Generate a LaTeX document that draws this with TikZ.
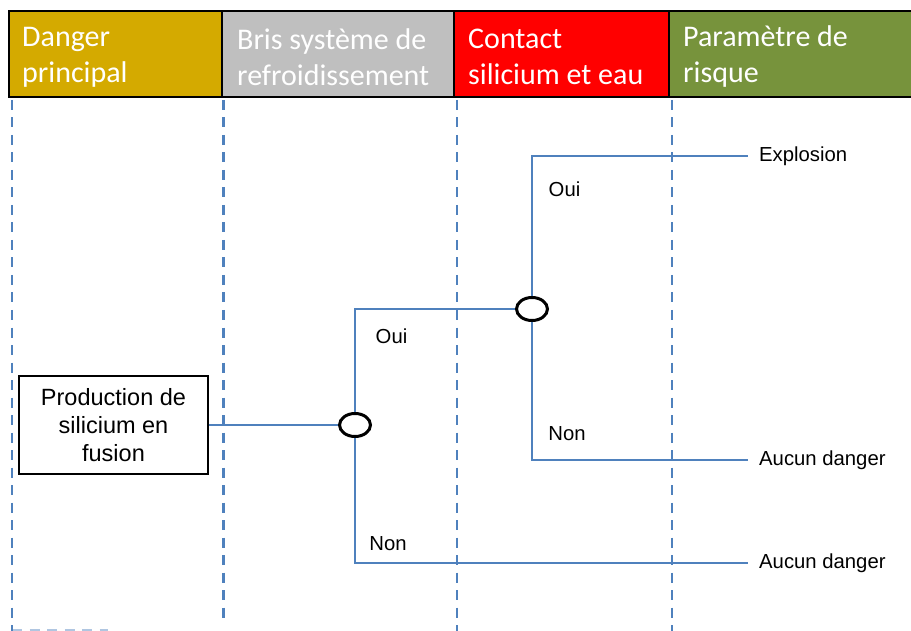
\documentclass[tikz,border=0pt]{standalone}
\usepackage{fontspec}
\setmainfont{Liberation Sans}
\newfontfamily\headfont{Carlito}
\usetikzlibrary{shapes.geometric}

\definecolor{colgold}{RGB}{212,170,0}
\definecolor{colgray}{RGB}{191,191,191}
\definecolor{colred}{RGB}{255,0,0}
\definecolor{colgreen}{RGB}{119,147,60}
\definecolor{linkblue}{RGB}{79,129,189}

\tikzset{
  x=1pt, y=-1pt,
  headcell/.style={draw=black, line width=2pt},
  headtext/.style={anchor=west, align=left, text=white, inner sep=0pt,
    font=\headfont\fontsize{30}{36}\selectfont},
  lane/.style={draw=linkblue, line width=2.7pt, dash pattern=on 10pt off 7.5pt},
  link/.style={draw=linkblue, line width=1.6pt},
  gate/.style={ellipse, draw=black, line width=3pt, fill=white,
    minimum width=31pt, minimum height=23pt, inner sep=0pt},
  startbox/.style={draw=black, line width=1.5pt, align=center,
    minimum width=189pt, minimum height=98pt, inner sep=0pt,
    font=\fontsize{23.5}{28}\selectfont},
  outcome/.style={anchor=west, inner xsep=11pt, inner ysep=0pt,
    font=\fontsize{20.3}{24}\selectfont},
  branch/.style={inner sep=0pt, font=\fontsize{20.3}{24}\selectfont}
}

\begin{document}
\begin{tikzpicture}
\useasboundingbox (0,0) rectangle (911,631);

% column headers
\fill[colgold]  (9,11) rectangle (222,97);
\fill[colgray]  (222,11) rectangle (454,97);
\fill[colred]   (454,11) rectangle (669,97);
\fill[colgreen] (669,11) rectangle (912,97);
\draw[headcell] (912,11) -- (9,11) -- (9,97) -- (912,97);
\draw[headcell] (222,11) -- (222,97);
\draw[headcell] (454,11) -- (454,97);
\draw[headcell] (669,11) -- (669,97);

\node[headtext] (hdr1) at (22,57)  {Danger\\principal};
\node[headtext] (hdr2) at (237,57) {Bris système de\\refroidissement};
\node[headtext] (hdr3) at (468,57) {Contact\\silicium et eau};
\node[headtext] (hdr4) at (683,57) {Paramètre de\\risque};

% lane separators
\draw[lane] (12,100) -- (12,631);
\draw[lane] (223.5,100) -- (223.5,621);
\draw[lane] (457,100) -- (457,631);
\draw[lane] (672,100) -- (672,631);
\draw[lane, draw opacity=0.45] (12,630) -- (108,630);

% event tree
\node[startbox] (prod) at (113.5,425) {Production de\\silicium en\\fusion};
\node[gate] (g1) at (355,425) {};
\node[gate] (g2) at (532,309) {};

\node[outcome] (expl) at (748,156) {Explosion};
\node[outcome] (safe1) at (748,460) {Aucun danger};
\node[outcome] (safe2) at (748,563) {Aucun danger};

\draw[link] (prod.east) -- (g1.west);
\draw[link] (g1.north) |- (g2.west);
\draw[link] (g1.south) |- (safe2.west);
\draw[link] (g2.north) |- (expl.west);
\draw[link] (g2.south) |- (safe1.west);

\node[branch] (oui1) at (391.5,336) {Oui};
\node[branch] (non1) at (388,544) {Non};
\node[branch] (oui2) at (564.5,189) {Oui};
\node[branch] (non2) at (567,434) {Non};
\end{tikzpicture}
\end{document}
